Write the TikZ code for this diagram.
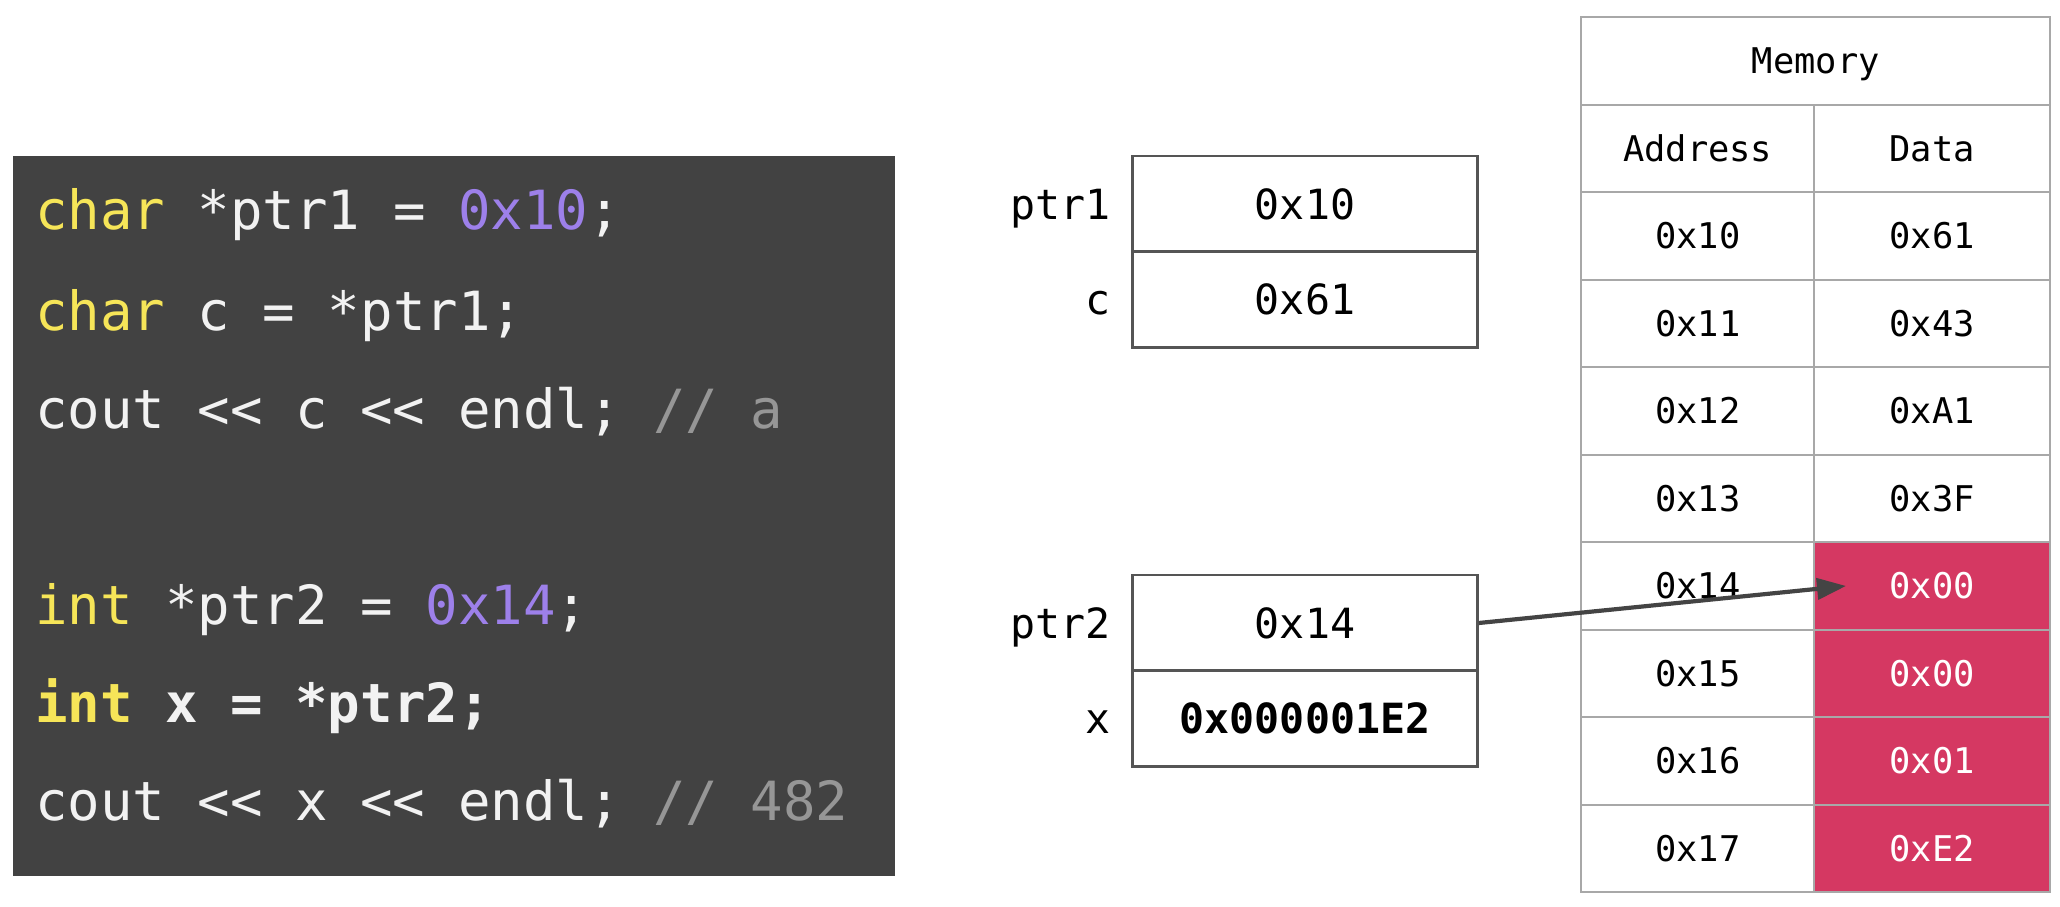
\documentclass[tikz,border=0pt]{standalone}
\usepackage{fontspec}
\setmonofont{DejaVu Sans Mono}
\usetikzlibrary{arrows.meta}

\definecolor{codebg}{RGB}{66,66,66}
\definecolor{kw}{RGB}{246,229,88}
\definecolor{num}{RGB}{157,128,234}
\definecolor{cmt}{RGB}{150,150,150}
\definecolor{plain}{RGB}{242,242,242}
\definecolor{hot}{RGB}{213,56,98}
\definecolor{gridline}{RGB}{168,168,168}
\definecolor{boxline}{RGB}{85,85,85}
\definecolor{ink}{RGB}{68,68,68}

\newcommand{\codefont}{\ttfamily\fontsize{27pt}{32pt}\selectfont}
\newcommand{\varfont}{\ttfamily\fontsize{20.8pt}{25pt}\selectfont}
\newcommand{\memfont}{\ttfamily\fontsize{17.7pt}{21pt}\selectfont}

\begin{document}
\begin{tikzpicture}[x=0.5pt,y=-0.5pt,
  codeline/.style={anchor=base west, inner sep=0pt, text=plain, font=\codefont},
  varcell/.style={draw=boxline, line width=1.2pt, minimum width=172.5pt,
    minimum height=48pt, inner sep=0pt, text height=15.2pt, text depth=0pt, font=\varfont},
  varlabel/.style={anchor=east, inner sep=0pt, text height=15.2pt, text depth=0pt, font=\varfont},
  memcell/.style={draw=gridline, line width=1.2pt, minimum height=43.75pt, inner sep=0pt,
    text height=12.9pt, text depth=0pt, font=\memfont, anchor=north west},
  addrcell/.style={memcell, minimum width=116.5pt},
  datacell/.style={memcell, minimum width=118pt},
  hotcell/.style={datacell, fill=hot, text=white},
]
\useasboundingbox (0,0) rectangle (2060,906);

% code panel
\node[fill=codebg, minimum width=441pt, minimum height=360pt, inner sep=0pt,
      anchor=north west] (codebox) at (13,156) {};
\node[codeline] (l1) at (35,229) {\textcolor{kw}{char} *ptr1 = \textcolor{num}{0x10};};
\node[codeline] (l2) at (35,330) {\textcolor{kw}{char} c = *ptr1;};
\node[codeline] (l3) at (35,428) {cout << c << endl; \textcolor{cmt}{// a}};
\node[codeline] (l5) at (35,624) {\textcolor{kw}{int} *ptr2 = \textcolor{num}{0x14};};
\node[codeline, font=\codefont\bfseries] (l6) at (35,722) {\textcolor{kw}{int} x = *ptr2;};
\node[codeline] (l7) at (35,820) {cout << x << endl; \textcolor{cmt}{// 482}};

% variables
\node[varcell] (p1) at (1305,204) {0x10};
\node[varcell] (cv) at (1305,299.5) {0x61};
\node[varcell] (p2) at (1305,623) {0x14};
\node[varcell, font=\varfont\bfseries] (xv) at (1305,718.5) {0x000001E2};
\node[varlabel] (lp1) at ([xshift=-10pt]p1.west) {ptr1};
\node[varlabel] (lcv) at ([xshift=-10pt]cv.west) {c};
\node[varlabel] (lp2) at ([xshift=-10pt]p2.west) {ptr2};
\node[varlabel] (lxv) at ([xshift=-10pt]xv.west) {x};

% memory table
\node[memcell, minimum width=234.5pt] (mem) at (1580,16) {Memory};
\node[addrcell] (ah) at (1580,103.5) {Address};
\node[datacell] (dh) at (1813,103.5) {Data};
\foreach \a/\d [count=\i from 2] in {10/61, 11/43, 12/A1, 13/3F} {
  \node[addrcell] (a\a) at (1580,16+\i*87.5) {0x\a};
  \node[datacell] (d\a) at (1813,16+\i*87.5) {0x\d};
}
\foreach \a/\d [count=\i from 6] in {14/00, 15/00, 16/01, 17/E2} {
  \node[addrcell] (a\a) at (1580,16+\i*87.5) {0x\a};
  \node[hotcell] (d\a) at (1813,16+\i*87.5) {0x\d};
}

% pointer
\coordinate (tip) at ([xshift=16.5pt]d14.west);
\draw[ink, line width=2.1pt, -{Triangle[length=14.5pt,width=10.5pt]}] (p2.east) -- (tip);
\end{tikzpicture}
\end{document}
